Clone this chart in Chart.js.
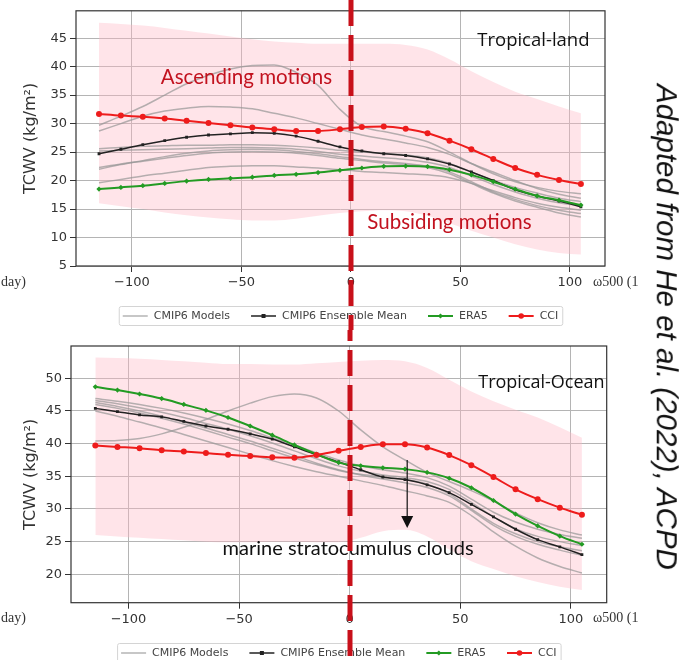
<!DOCTYPE html>
<html><head><meta charset="utf-8">
<script src="https://cdn.jsdelivr.net/npm/chart.js@4.4.0/dist/chart.umd.min.js"></script>
<style>
html,body{margin:0;padding:0;background:#fff;}
#wrap{position:relative;width:698px;height:660px;overflow:hidden;background:#fff;}
.pane{position:absolute;left:0;width:698px;height:330px;}
.serif{position:absolute;font-family:"Liberation Serif","DejaVu Serif",serif;font-size:14px;color:#333;white-space:nowrap;line-height:14px;}
#credit{position:absolute;left:667px;top:327px;transform:translate(-50%,-50%) rotate(90deg);font-family:"Liberation Sans",Arial,sans-serif;font-style:italic;font-size:29.5px;color:#111;white-space:nowrap;line-height:1;}
</style></head>
<body><div id="wrap">
<div class="pane" style="top:0"><canvas id="c1" width="698" height="330"></canvas></div>
<div class="pane" style="top:330px"><canvas id="c2" width="698" height="330"></canvas></div>
<div class="serif" style="left:1px;top:275px">day)</div>
<div class="serif" style="left:593px;top:275px">ω500 (1</div>
<div class="serif" style="left:1px;top:611px">day)</div>
<div class="serif" style="left:593px;top:611px">ω500 (1</div>
<div id="credit">Adapted from He et al. (2022), ACPD</div>
</div>
<script>
// ---------- data ----------
const omega = [-115,-105,-95,-85,-75,-65,-55,-45,-35,-25,-15,-5,5,15,25,35,45,55,65,75,85,95,105];
const xTickValues = [-100,-50,0,50,100];
const landYTicks = [5,10,15,20,25,30,35,40,45];
const oceanYTicks = [20,25,30,35,40,45,50];
const legendLabels = ['CMIP6 Models','CMIP6 Ensemble Mean','ERA5','CCI'];

// Tropical-land
const landCCI  = [31.7,31.4,31.2,30.9,30.5,30.1,29.7,29.3,29.0,28.7,28.7,29.0,29.4,29.5,29.1,28.3,27.0,25.5,23.8,22.2,21.0,20.1,19.4];
const landMean = [24.7,25.5,26.3,27.0,27.6,28.0,28.2,28.4,28.3,27.8,26.9,25.9,25.2,24.7,24.4,23.8,22.9,21.5,20.0,18.4,17.3,16.4,15.4];
const landERA5 = [18.5,18.8,19.1,19.5,19.9,20.2,20.4,20.6,20.9,21.1,21.4,21.8,22.2,22.5,22.55,22.45,21.9,21.0,19.8,18.5,17.3,16.55,15.7];
const landModelA = [29.7,31.3,33.0,35.0,37.0,38.5,39.6,40.2,40.3,39.0,36.7,32.5,29.5,28.6,27.8,26.8,25.0,23.0,21.2,19.8,18.8,18.1,17.7];
const landModelB = [28.7,30.0,31.3,32.2,32.7,33.0,32.9,32.6,31.8,31.0,30.0,29.0,28.0,27.3,26.6,25.8,24.6,23.0,21.5,20.0,18.6,17.6,16.9];
const landModelC = [25.6,25.8,26.0,26.1,26.2,26.2,26.3,26.3,26.2,26.0,25.7,25.3,25.0,24.8,24.5,24.0,23.0,21.5,20.0,18.8,17.8,16.9,16.3];
const landModelD = [25.2,25.3,25.4,25.5,25.6,25.7,25.8,25.8,25.7,25.5,25.1,24.6,24.3,24.0,23.7,23.2,22.3,20.8,19.3,18.0,16.9,16.1,15.6];
const landModelE = [22.0,22.8,23.5,24.2,24.8,25.2,25.4,25.5,25.4,25.1,24.7,24.2,23.7,23.3,23.0,22.5,21.5,19.8,18.0,16.7,15.6,14.8,14.2];
const landModelF = [22.3,22.9,23.4,23.9,24.4,24.8,25.0,25.1,25.0,24.8,24.4,23.9,23.5,23.1,22.8,22.3,21.2,19.5,17.8,16.4,15.3,14.3,13.6];
const landModelG = [19.6,20.2,20.8,21.3,21.8,22.3,22.5,22.6,22.6,22.4,22.2,21.9,21.6,21.4,21.2,21.0,20.5,19.5,18.2,17.0,16.0,15.3,14.8];
const landBandHigh = [47.7,47.5,47.2,46.8,46.3,45.8,45.3,44.8,44.4,44.2,44.0,44.0,44.0,44.0,43.8,43.0,41.3,39.2,37.3,35.6,34.3,33.0,31.8];
const landBandLow  = [16.0,15.5,15.0,14.4,13.9,13.5,13.2,13.0,13.0,13.3,13.8,14.3,14.6,14.8,14.6,13.8,12.5,11.2,10.0,8.8,7.9,7.3,7.0];

// Tropical-Ocean
const oceanCCI  = [39.7,39.5,39.3,39.0,38.8,38.55,38.3,38.1,37.9,37.85,38.25,38.9,39.5,39.9,39.9,39.4,38.25,36.7,34.9,33.0,31.5,30.2,29.1];
const oceanMean = [45.4,44.9,44.4,44.1,43.4,42.7,42.2,41.5,40.7,39.5,38.3,37.2,36.0,34.9,34.5,33.7,32.5,30.7,28.8,26.9,25.3,24.2,23.0];
const oceanERA5 = [48.7,48.2,47.6,46.9,46.0,45.1,44.0,42.7,41.3,39.8,38.4,37.1,36.6,36.3,36.1,35.6,34.7,33.25,31.3,29.2,27.4,25.85,24.6];
const oceanModelA = [40.4,40.5,40.8,41.5,42.5,43.7,45.0,46.2,47.2,47.6,47.0,45.0,42.1,39.5,37.5,35.6,34.2,32.8,31.2,29.4,27.9,26.8,26.0];
const oceanModelB = [46.9,46.5,46.0,45.4,44.7,43.9,43.0,42.0,40.9,39.8,38.6,37.5,36.6,36.0,35.5,34.8,33.5,31.5,29.5,28.0,26.9,26.1,25.5];
const oceanModelC = [46.6,46.1,45.5,44.8,44.0,43.1,42.2,41.2,40.1,38.9,37.7,36.6,35.8,35.2,34.8,34.2,33.0,31.0,28.8,27.0,25.8,25.0,24.4];
const oceanModelD = [46.3,45.7,45.0,44.2,43.3,42.4,41.4,40.4,39.3,38.2,37.0,36.0,35.2,34.6,34.0,33.3,32.0,29.8,27.5,25.8,24.6,23.7,22.9];
const oceanModelE = [45.0,44.2,43.3,42.4,41.4,40.4,39.4,38.4,37.4,36.5,35.7,35.0,34.3,33.6,32.8,32.0,31.0,29.0,26.5,24.3,22.5,21.2,20.2];
const oceanModelF = [46.0,45.4,44.7,43.9,43.0,42.0,41.0,40.0,38.9,37.8,36.8,35.9,35.3,34.9,34.5,33.8,32.3,30.0,27.8,26.2,25.0,24.2,23.6];
const oceanBandHigh = [53.2,53.1,53.0,52.8,52.6,52.4,52.2,52.2,52.1,52.1,52.3,52.5,52.7,52.8,52.6,51.6,49.8,48.0,46.5,45.2,44.0,42.5,40.9];
const oceanBandLow  = [26.0,25.8,25.6,25.4,25.2,25.0,24.9,24.9,25.0,25.0,24.9,24.9,25.6,26.6,26.8,25.8,23.8,22.0,20.8,19.7,18.8,18.1,17.6];

// ---------- styles ----------
const C_RED = '#ee1c1c', C_GREEN = '#239b23', C_BLACK = '#222222', C_GRAY = 'rgba(150,150,150,0.7)';
const C_BAND = 'rgba(255,185,196,0.38)', C_DASH = '#c8101a', C_ANN = '#c2121f';
const pts = arr => omega.map((x,i)=>({x, y: arr[i]}));
const fmt = v => v < 0 ? '\u2212' + Math.abs(v) : String(v);

function lineDs(label, arr, color, width, style, radius){
  return {label, data: pts(arr), borderColor: color, backgroundColor: color, borderWidth: width,
    pointStyle: style || 'circle', pointRadius: radius || 0, pointBorderWidth: 0,
    pointBackgroundColor: color, cubicInterpolationMode: 'monotone', fill: false};
}
function buildDatasets(cci, era5, mean, models, hi, lo){
  const ds = [
    lineDs(legendLabels[3], cci, C_RED, 2, 'circle', 3),
    lineDs(legendLabels[2], era5, C_GREEN, 2, 'rectRot', 2.6),
    lineDs(legendLabels[1], mean, C_BLACK, 1.5, 'rect', 2),
  ];
  models.forEach(m => ds.push(lineDs(legendLabels[0], m, C_GRAY, 1.5)));
  ds.push({label:'band-high', data: pts(hi), borderWidth: 0, pointRadius: 0, fill: '+1', backgroundColor: C_BAND, cubicInterpolationMode:'monotone'});
  ds.push({label:'band-low', data: pts(lo), borderWidth: 0, pointRadius: 0, fill: false, cubicInterpolationMode:'monotone'});
  return ds;
}

const overlay = {
  id: 'overlay',
  afterDraw(chart, args, o){
    const {ctx, chartArea: ca, scales: {x, y}} = chart;
    ctx.save();
    // frame
    ctx.strokeStyle = '#333'; ctx.lineWidth = 1.2; ctx.setLineDash([]);
    ctx.strokeRect(ca.left, ca.top, ca.right - ca.left, ca.bottom - ca.top);
    // text annotations
    ctx.save();
    ctx.beginPath(); ctx.rect(ca.left, ca.top, ca.right-ca.left+6, ca.bottom-ca.top); ctx.clip();
    (o.texts||[]).forEach(t => {
      ctx.font = t.font; ctx.fillStyle = t.color; ctx.textAlign = 'center'; ctx.textBaseline = 'middle';
      ctx.fillText(t.text, x.getPixelForValue(t.x), y.getPixelForValue(t.y));
    });
    ctx.restore();
    // arrow
    if (o.arrow){
      const ax = x.getPixelForValue(o.arrow.x), y0 = y.getPixelForValue(o.arrow.y0), y1 = y.getPixelForValue(o.arrow.y1);
      ctx.strokeStyle = '#111'; ctx.fillStyle = '#111'; ctx.lineWidth = 1.2;
      ctx.beginPath(); ctx.moveTo(ax, y0); ctx.lineTo(ax, y1 - 12); ctx.stroke();
      ctx.beginPath(); ctx.moveTo(ax - 6, y1 - 12); ctx.lineTo(ax + 6, y1 - 12); ctx.lineTo(ax, y1); ctx.closePath(); ctx.fill();
    }
    // legend
    const items = [
      {label: legendLabels[0], color: C_GRAY, w: 1.5},
      {label: legendLabels[1], color: C_BLACK, w: 1.5, style: 'rect'},
      {label: legendLabels[2], color: C_GREEN, w: 2, style: 'diamond'},
      {label: legendLabels[3], color: C_RED, w: 2, style: 'circle'}
    ];
    ctx.font = '11px "DejaVu Sans"';
    const pad = 4, handle = 25, gap = 6, space = 21;
    let total = pad * 2;
    items.forEach((it, i) => { it.tw = ctx.measureText(it.label).width; total += handle + gap + it.tw + (i ? space : 0); });
    let lx = (ca.left + ca.right) / 2 - total / 2;
    const ly = o.legendY;
    ctx.fillStyle = 'rgba(255,255,255,0.85)'; ctx.strokeStyle = '#d4d4d4'; ctx.lineWidth = 1;
    ctx.beginPath(); ctx.roundRect(lx + 0.5, ly - 9.5, total, 19, 2); ctx.fill(); ctx.stroke();
    let cx = lx + pad;
    items.forEach((it, i) => {
      if (i) cx += space;
      ctx.strokeStyle = it.color; ctx.lineWidth = it.w;
      ctx.beginPath(); ctx.moveTo(cx, ly); ctx.lineTo(cx + handle, ly); ctx.stroke();
      const mx = cx + handle / 2; ctx.fillStyle = it.color;
      if (it.style === 'rect') ctx.fillRect(mx - 2, ly - 2, 4, 4);
      if (it.style === 'diamond') { ctx.beginPath(); ctx.moveTo(mx, ly-2.6); ctx.lineTo(mx+2.6, ly); ctx.lineTo(mx, ly+2.6); ctx.lineTo(mx-2.6, ly); ctx.fill(); }
      if (it.style === 'circle') { ctx.beginPath(); ctx.arc(mx, ly, 2.8, 0, Math.PI*2); ctx.fill(); }
      cx += handle + gap;
      ctx.fillStyle = '#444'; ctx.textAlign = 'left'; ctx.textBaseline = 'middle';
      ctx.fillText(it.label, cx, ly + 0.5);
      cx += it.tw;
    });
    // dashed red vertical line at omega = 0
    const dx = Math.round(x.getPixelForValue(0));
    ctx.strokeStyle = C_DASH; ctx.lineWidth = 5; ctx.setLineDash([26, 9]); ctx.lineDashOffset = o.dashOffset || 0;
    ctx.beginPath(); ctx.moveTo(dx, 0); ctx.lineTo(dx, chart.height); ctx.stroke();
    ctx.restore();
  }
};

function makeChart(id, cfg){
  return new Chart(document.getElementById(id), {
    type: 'line',
    data: {datasets: cfg.datasets},
    plugins: [overlay],
    options: {
      responsive: false, animation: false, events: [],
      layout: {padding: cfg.padding},
      plugins: {legend: {display: false}, tooltip: {enabled: false}, overlay: cfg.overlay},
      scales: {
        x: {type: 'linear', min: cfg.xmin, max: cfg.xmax,
            afterBuildTicks: s => { s.ticks = xTickValues.map(v => ({value: v})); },
            afterFit: s => { s.height = 24; },
            border: {display: false},
            grid: {color: '#b4b4b4', lineWidth: 1, tickColor: '#333', tickLength: 6},
            ticks: {callback: fmt, color: '#333', font: {family: 'DejaVu Sans', size: 13}, padding: 3, maxRotation: 0, autoSkip: false}},
        y: {type: 'linear', min: cfg.ymin, max: cfg.ymax,
            afterBuildTicks: s => { s.ticks = cfg.yTicks.map(v => ({value: v})); },
            afterFit: s => { s.width = cfg.yWidth; },
            border: {display: false},
            grid: {color: '#b4b4b4', lineWidth: 1, tickColor: '#333', tickLength: 6},
            ticks: {callback: fmt, color: '#333', font: {family: 'DejaVu Sans', size: 13}, padding: 3, autoSkip: false},
            title: {display: true, text: 'TCWV (kg/m²)', color: '#333', font: {family: 'DejaVu Sans', size: 16}, padding: {top: 21, bottom: 0}}}
      }
    }
  });
}

makeChart('c1', {
  datasets: buildDatasets(landCCI, landERA5, landMean,
    [landModelA, landModelB, landModelC, landModelD, landModelE, landModelF, landModelG], landBandHigh, landBandLow),
  padding: {left: 0, right: 93, top: 10, bottom: 40},
  xmin: -125.5, xmax: 116, ymin: 5, ymax: 49.8, yTicks: landYTicks, yWidth: 76,
  overlay: {
    legendY: 316, dashOffset: 0,
    texts: [
      {text: 'Ascending motions', x: -47.7, y: 38.1, font: '20.5px Lato', color: C_ANN},
      {text: 'Subsiding motions', x: 45, y: 12.7, font: '20.5px Lato', color: C_ANN},
      {text: 'Tropical-land', x: 83.3, y: 44.5, font: '18.5px "Open Sans"', color: '#111'}
    ]
  }
});

makeChart('c2', {
  datasets: buildDatasets(oceanCCI, oceanERA5, oceanMean,
    [oceanModelA, oceanModelB, oceanModelC, oceanModelD, oceanModelE, oceanModelF], oceanBandHigh, oceanBandLow),
  padding: {left: 0, right: 91.3, top: 16, bottom: 33.3},
  xmin: -126, xmax: 116.2, ymin: 15.65, ymax: 54.95, yTicks: oceanYTicks, yWidth: 71,
  overlay: {
    legendY: 323, dashOffset: 15,
    texts: [
      {text: 'Tropical-Ocean', x: 86.7, y: 49.3, font: '18px "Open Sans"', color: '#111'},
      {text: 'marine stratocumulus clouds', x: -0.7, y: 24.0, font: '20px Lato', color: '#111'}
    ],
    arrow: {x: 26, y0: 37.5, y1: 27.1}
  }
});
</script>
</body></html>
